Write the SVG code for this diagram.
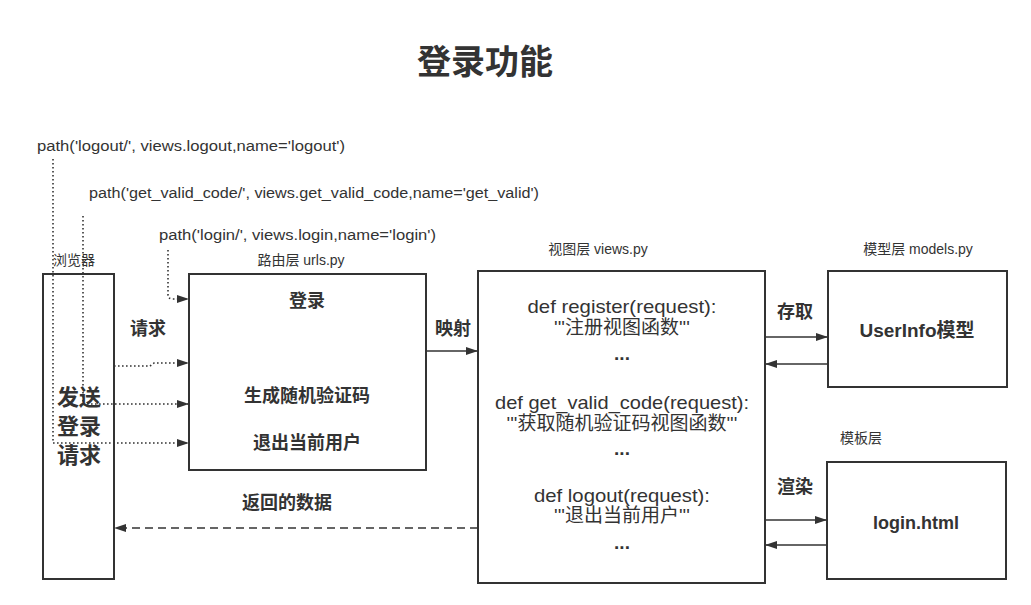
<svg xmlns="http://www.w3.org/2000/svg" width="1031" height="605" viewBox="0 0 1031 605">
<defs>
<style>
text{font-family:"Liberation Sans","Noto Sans CJK SC",sans-serif;fill:#333;dominant-baseline:central}
.box{fill:#fff;stroke:#333;stroke-width:2}
.c{text-anchor:middle}
.sm{font-size:14px}
.pt{font-size:14px}
.b{font-size:18px;font-weight:bold}
.m{font-size:19px}
.ln{fill:none;stroke:#333;stroke-width:1.5}
.dot{fill:none;stroke:#333;stroke-width:1.6;stroke-dasharray:1.6 2.4}
.dash{fill:none;stroke:#333;stroke-width:1.5;stroke-dasharray:8 5}
</style>
<marker id="ah" viewBox="0 0 12 8" refX="12" refY="4" markerWidth="12" markerHeight="8" markerUnits="userSpaceOnUse" orient="auto">
<path d="M0,0 L12,4 L0,8 z" fill="#333"/>
</marker>
</defs>
<rect width="1031" height="605" fill="#fff"/>
<text x="485" y="62" class="c" style="font-size:34px;font-weight:bold">登录功能</text>

<g id="browser">
<rect class="box" x="43" y="274" width="71" height="305"/>
<text x="74" y="260" class="c sm">浏览器</text>
<text x="79" y="397" class="c" style="font-size:22px;font-weight:bold">发送</text>
<text x="79" y="426" class="c" style="font-size:22px;font-weight:bold">登录</text>
<text x="79" y="455" class="c" style="font-size:22px;font-weight:bold">请求</text>
</g>

<g id="router">
<rect class="box" x="189" y="274" width="237" height="196"/>
<text x="301" y="260" class="c sm">路由层 urls.py</text>
<text x="307" y="301" class="c b">登录</text>
<text x="307" y="396" class="c b">生成随机验证码</text>
<text x="307" y="443" class="c b">退出当前用户</text>
</g>

<g id="views">
<rect class="box" x="478" y="271" width="287" height="312"/>
<text x="598" y="249" class="c sm">视图层 views.py</text>
<text x="622" y="306" class="c m" textLength="189" lengthAdjust="spacingAndGlyphs">def register(request):</text>
<text x="622" y="327" class="c m">'''注册视图函数'''</text>
<text x="622" y="353" class="c m" style="font-weight:bold">...</text>
<text x="622" y="402" class="c m" textLength="254" lengthAdjust="spacingAndGlyphs">def get_valid_code(request):</text>
<text x="622" y="423" class="c m">'''获取随机验证码视图函数'''</text>
<text x="622" y="448" class="c m" style="font-weight:bold">...</text>
<text x="622" y="495" class="c m" textLength="176" lengthAdjust="spacingAndGlyphs">def logout(request):</text>
<text x="622" y="515" class="c m">'''退出当前用户'''</text>
<text x="622" y="542" class="c m" style="font-weight:bold">...</text>
</g>

<g id="model">
<rect class="box" x="828" y="271" width="179" height="116"/>
<text x="918" y="249" class="c sm">模型层 models.py</text>
<text x="917" y="330" class="c" style="font-size:19px;font-weight:bold">UserInfo模型</text>
</g>

<g id="template">
<rect class="box" x="827" y="462" width="179" height="117"/>
<text x="861" y="438" class="c sm">模板层</text>
<text x="916" y="523" class="c" style="font-size:18px;font-weight:bold">login.html</text>
</g>

<g id="paths">
<text x="37" y="146" class="pt" textLength="308" lengthAdjust="spacingAndGlyphs">path('logout/', views.logout,name='logout')</text>
<text x="89" y="193" class="pt" textLength="450" lengthAdjust="spacingAndGlyphs">path('get_valid_code/', views.get_valid_code,name='get_valid')</text>
<text x="159" y="235" class="pt" textLength="277" lengthAdjust="spacingAndGlyphs">path('login/', views.login,name='login')</text>
</g>

<g id="connectors">
<path class="dot" d="M168,250 V295 Q168,299 173,299 H189" marker-end="url(#ah)"/>
<path class="dot" d="M114,366 H150 L154,363 H189" marker-end="url(#ah)"/>
<path class="dot" d="M83,216 V404 H189" marker-end="url(#ah)"/>
<path class="dot" d="M53,159 V443 H189" marker-end="url(#ah)"/>
<text x="148" y="329" class="c b">请求</text>
<path class="ln" d="M426,351 H478" marker-end="url(#ah)"/>
<text x="453" y="329" class="c b">映射</text>
<path class="dash" d="M478,528 H114" marker-end="url(#ah)"/>
<text x="287" y="503" class="c b">返回的数据</text>
<path class="ln" d="M765,337 H828" marker-end="url(#ah)"/>
<path class="ln" d="M828,364 H765" marker-end="url(#ah)"/>
<text x="795" y="312" class="c b">存取</text>
<path class="ln" d="M765,520 H827" marker-end="url(#ah)"/>
<path class="ln" d="M827,545 H765" marker-end="url(#ah)"/>
<text x="795" y="487" class="c b">渲染</text>
</g>
</svg>
